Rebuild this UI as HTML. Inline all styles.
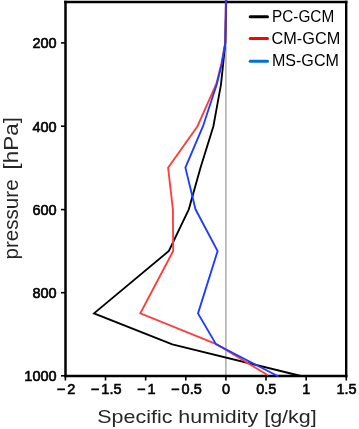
<!DOCTYPE html>
<html><head><meta charset="utf-8"><style>
html,body{margin:0;padding:0;background:#fff;width:359px;height:429px;overflow:hidden}
svg{display:block;will-change:transform}
.t{font-family:"Liberation Sans",sans-serif;font-size:14.5px;fill:#000;stroke:#000;stroke-width:0.6}
.ax{font-family:"Liberation Sans",sans-serif;font-size:19px;fill:#262626}
.ay{font-family:"Liberation Sans",sans-serif;font-size:20.7px;fill:#262626}
.lg{font-family:"Liberation Sans",sans-serif;font-size:16.2px;fill:#000}
</style></head><body>
<svg width="359" height="429" viewBox="0 0 359 429">
<rect width="359" height="429" fill="#fff"/>
<line x1="225.9" y1="2" x2="225.9" y2="375" stroke="#a4a4a4" stroke-width="1.4"/>
<path d="M64.2 1.95H347.4" stroke="#000" stroke-width="2.4" fill="none"/>
<path d="M65.5 0.75V377.3" stroke="#000" stroke-width="2.5" fill="none"/>
<path d="M346.2 0.75V377.3" stroke="#000" stroke-width="2.4" fill="none"/>
<path d="M64.2 376.1H347.4" stroke="#000" stroke-width="2.5" fill="none"/>
<polyline points="226.3,0.0 225.3,42.7 223.2,63.5 221.0,84.3 213.4,126.2 200.5,167.7 188.8,209.3 168.9,251.0 94.0,313.4 172.3,344.4 301.0,376.0" fill="none" stroke="#000" stroke-width="1.85" stroke-linejoin="miter"/>
<polyline points="225.9,0.0 225.3,42.7 221.4,63.5 216.4,83.6 197.5,126.2 168.1,167.7 172.9,209.3 173.2,251.0 140.3,313.4 217.0,344.4 267.9,375.3" fill="none" stroke="#ff3c3c" stroke-width="1.85"/>
<polyline points="225.9,0.0 225.3,42.7 221.9,63.5 216.8,84.3 203.0,126.2 185.4,167.7 195.5,209.3 217.6,251.0 198.0,313.4 216.1,344.4 278.6,376.5" fill="none" stroke="#1e3cff" stroke-width="1.85"/>
<line x1="61" y1="42.9" x2="66" y2="42.9" stroke="#000" stroke-width="1.6"/>
<text x="56.6" y="48.4" text-anchor="end" class="t">200</text>
<line x1="61" y1="126.2" x2="66" y2="126.2" stroke="#000" stroke-width="1.6"/>
<text x="56.6" y="131.7" text-anchor="end" class="t">400</text>
<line x1="61" y1="209.6" x2="66" y2="209.6" stroke="#000" stroke-width="1.6"/>
<text x="56.6" y="215.1" text-anchor="end" class="t">600</text>
<line x1="61" y1="292.7" x2="66" y2="292.7" stroke="#000" stroke-width="1.6"/>
<text x="56.6" y="298.2" text-anchor="end" class="t">800</text>
<line x1="61" y1="375.8" x2="66" y2="375.8" stroke="#000" stroke-width="1.6"/>
<text x="56.6" y="381.3" text-anchor="end" class="t">1000</text>
<line x1="65.4" y1="375" x2="65.4" y2="380.5" stroke="#000" stroke-width="1.6"/>
<text x="66.0" y="393.6" text-anchor="middle" class="t">−<tspan dx="2.2">2</tspan></text>
<line x1="105.525" y1="375" x2="105.525" y2="380.5" stroke="#000" stroke-width="1.6"/>
<text x="106.125" y="393.6" text-anchor="middle" class="t">−<tspan dx="2.2">1.5</tspan></text>
<line x1="145.65" y1="375" x2="145.65" y2="380.5" stroke="#000" stroke-width="1.6"/>
<text x="146.25" y="393.6" text-anchor="middle" class="t">−<tspan dx="2.2">1</tspan></text>
<line x1="185.775" y1="375" x2="185.775" y2="380.5" stroke="#000" stroke-width="1.6"/>
<text x="186.375" y="393.6" text-anchor="middle" class="t">−<tspan dx="2.2">0.5</tspan></text>
<line x1="225.9" y1="375" x2="225.9" y2="380.5" stroke="#000" stroke-width="1.6"/>
<text x="226.1" y="393.6" text-anchor="middle" class="t">0</text>
<line x1="266.025" y1="375" x2="266.025" y2="380.5" stroke="#000" stroke-width="1.6"/>
<text x="266.22499999999997" y="393.6" text-anchor="middle" class="t">0.5</text>
<line x1="306.15" y1="375" x2="306.15" y2="380.5" stroke="#000" stroke-width="1.6"/>
<text x="306.34999999999997" y="393.6" text-anchor="middle" class="t">1</text>
<line x1="346.275" y1="375" x2="346.275" y2="380.5" stroke="#000" stroke-width="1.6"/>
<text x="346.47499999999997" y="393.6" text-anchor="middle" class="t">1.5</text>
<text x="97.3" y="422.9" class="ax" textLength="219.4" lengthAdjust="spacingAndGlyphs">Specific humidity [g/kg]</text>
<g transform="translate(18.2,0) rotate(-90)"><text x="-259.6" y="0" class="ay" textLength="80.3" lengthAdjust="spacingAndGlyphs">pressure</text><text x="-169.4" y="0" class="ay" textLength="52.3" lengthAdjust="spacingAndGlyphs">[hPa]</text></g>
<line x1="250.2" y1="16.8" x2="267.5" y2="16.8" stroke="#000" stroke-width="3" stroke-linecap="round"/>
<text x="272.0" y="22.0" class="lg" textLength="62.2" lengthAdjust="spacingAndGlyphs">PC-GCM</text>
<line x1="250.2" y1="38.5" x2="267.5" y2="38.5" stroke="#ff0000" stroke-width="3" stroke-linecap="round"/>
<text x="271.6" y="43.9" class="lg" textLength="68.6" lengthAdjust="spacingAndGlyphs">CM-GCM</text>
<line x1="250.2" y1="61.3" x2="267.5" y2="61.3" stroke="#0070d8" stroke-width="3" stroke-linecap="round"/>
<text x="271.9" y="66.1" class="lg" textLength="67.0" lengthAdjust="spacingAndGlyphs">MS-GCM</text>
</svg>
</body></html>
